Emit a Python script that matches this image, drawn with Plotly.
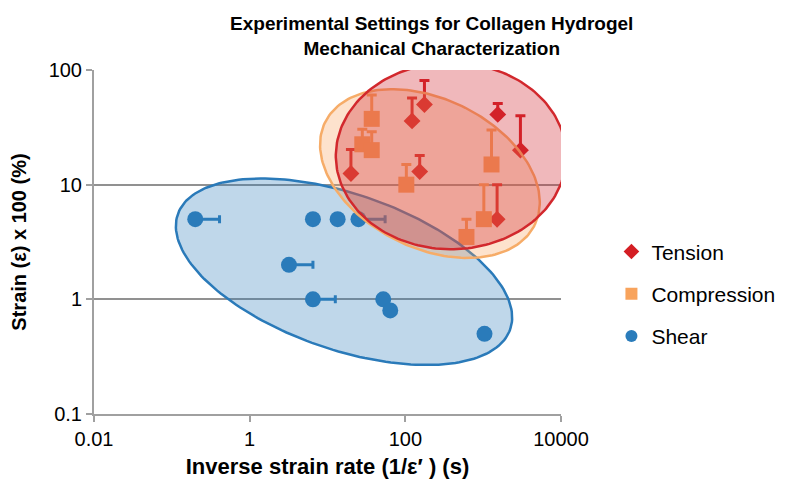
import numpy as np
import plotly.graph_objects as go

# tension (red diamonds)
tension_x = [20, 122, 176, 153, 1540, 3010, 1510]
tension_y = [12.5, 36, 50, 13, 41, 20, 5]
tension_err = [7.8, 21, 31, 5, 10, 20, 5]

# compression (orange squares)
comp_x = [37, 28, 37, 103, 1280, 1020, 610]
comp_y = [37.5, 22.5, 20, 10, 15, 5, 3.5]
comp_err = [23, 8, 9, 5, 15, 5, 1.5]

# shear (blue circles), error bars on strain rate
shear_x = [0.2, 6.5, 13.5, 25, 3.2, 6.5, 52, 64, 1040]
shear_y = [5, 5, 5, 5, 2, 1, 1, 0.8, 0.5]
shear_xerr = [0.21, 0, 0, 30, 3.3, 6.1, 0, 0, 0]

RED = 'rgb(212,30,36)'
ORANGE = 'rgb(248,163,92)'
BLUE = 'rgb(42,124,187)'

# page body adds an 8px offset, so margins are shifted to compensate
W, H = 792, 493
ml, mr, mt, mb = 86, 239, 62, 86.5
px_dec_x = (W - ml - mr) / 6.0
px_dec_y = (H - mt - mb) / 3.0
k = px_dec_y / px_dec_x


def ellipse(cx, cy, a, b, ang):
    # a, b in x-decades, drawn round on screen
    t = np.linspace(0, 2 * np.pi, 200)
    th = np.radians(ang)
    u = a * np.cos(t) * np.cos(th) - b * np.sin(t) * np.sin(th)
    v = a * np.cos(t) * np.sin(th) + b * np.sin(t) * np.cos(th)
    return 10 ** (np.log10(cx) + u), 10 ** (np.log10(cy) + v / k)


fig = go.Figure()

fig.add_trace(go.Scatter(
    x=tension_x, y=tension_y, mode='markers', name='Tension',
    legendgroup='a',
    marker=dict(symbol='diamond', size=13, color=RED),
    error_y=dict(type='data', symmetric=False, array=tension_err,
                 arrayminus=[0] * len(tension_err), color=RED, thickness=3, width=5)
))
fig.add_trace(go.Scatter(
    x=comp_x, y=comp_y, mode='markers', name='Compression',
    legendgroup='b',
    marker=dict(symbol='square', size=16, color=ORANGE),
    error_y=dict(type='data', symmetric=False, array=comp_err,
                 arrayminus=[0] * len(comp_err), color=ORANGE, thickness=3, width=5)
))
fig.add_trace(go.Scatter(
    x=shear_x, y=shear_y, mode='markers', name='Shear',
    legendgroup='c',
    marker=dict(symbol='circle', size=16, color=BLUE),
    error_x=dict(type='data', symmetric=False, array=shear_xerr,
                 arrayminus=[0] * len(shear_xerr), color=BLUE, thickness=3, width=4)
))

# shaded regions, drawn over the points
regions = [
    ((16.3, 1.74, 2.26, 1.00, -19.1), 'rgba(42,124,187,0.30)', 'rgb(42,122,185)'),
    ((207, 12.5, 1.50, 0.96, -26.1), 'rgba(247,160,90,0.30)', 'rgb(246,172,104)'),
    ((386, 17.8, 1.48, 1.20, 0), 'rgba(210,40,50,0.33)', 'rgb(210,40,45)'),
]
for p, fc, lc in regions:
    ex, ey = ellipse(*p)
    fig.add_trace(go.Scatter(
        x=ex, y=ey, mode='lines', fill='toself', fillcolor=fc,
        line=dict(color=lc, width=2.5), showlegend=False, hoverinfo='skip'
    ))

fig.update_layout(
    width=W, height=H, autosize=False,
    margin=dict(l=ml, r=mr, t=mt, b=mb),
    plot_bgcolor='white', paper_bgcolor='white',
    font=dict(family='Liberation Sans, Arial, sans-serif', color='black'),
    title=dict(text='<b>Experimental Settings for Collagen Hydrogel<br>Mechanical Characterization</b>',
               x=0.535, xanchor='center', y=0.955, yanchor='middle',
               font=dict(size=19)),
    legend=dict(x=1.108, xanchor='left', y=0.531, yanchor='top',
                font=dict(size=21), itemsizing='constant',
                traceorder='grouped', tracegroupgap=12, itemwidth=30),
    xaxis=dict(type='log', range=[-2, 4], tickvals=[0.01, 1, 100, 10000],
               ticktext=['0.01', '1', '100', '10000'],
               showgrid=False, zeroline=False, showline=True, automargin=False,
               linecolor='rgb(160,160,160)', linewidth=2,
               ticks='outside', ticklen=6, tickwidth=2, tickcolor='rgb(160,160,160)',
               tickfont=dict(size=20),
               title=dict(text='<b>Inverse strain rate (1/ε′ ) (s)</b>', font=dict(size=22), standoff=10)),
    yaxis=dict(type='log', range=[-1, 2], tickvals=[0.1, 1, 10, 100],
               ticktext=['0.1', '1', '10', '100'],
               showgrid=True, gridcolor='rgb(145,145,145)', gridwidth=2,
               zeroline=False, showline=True, automargin=False,
               linecolor='rgb(160,160,160)', linewidth=2,
               ticks='outside', ticklen=6, tickwidth=2, tickcolor='rgb(160,160,160)',
               tickfont=dict(size=20),
               title=dict(text='<b>Strain (ε) x 100 (%)</b>', font=dict(size=20), standoff=24)),
)

fig.write_html('out.html')
